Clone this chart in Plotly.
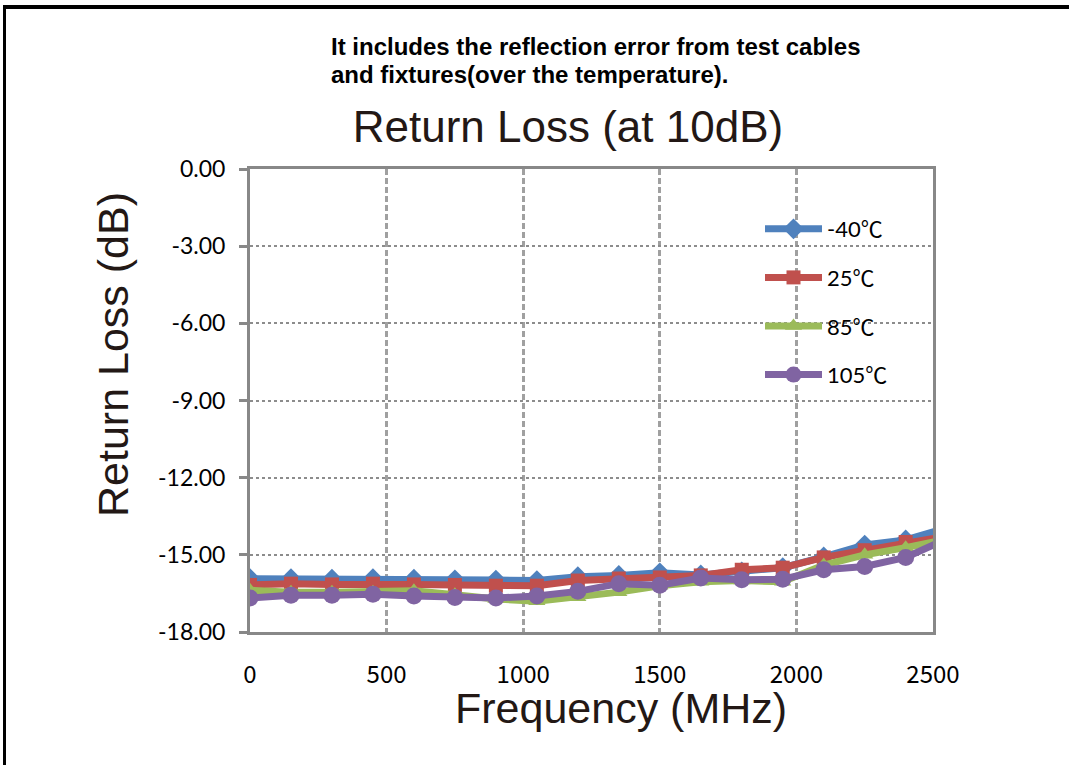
import plotly.graph_objects as go

# ---- data ----
freq_mhz = [0, 150, 300, 450, 600, 750, 900, 1050, 1200, 1350, 1500,
            1650, 1800, 1950, 2100, 2250, 2400, 2550]
rl_m40 = [-15.93, -15.93, -15.95, -15.93, -15.95, -15.97, -15.98, -16.00, -15.85,
          -15.80, -15.70, -15.78, -15.66, -15.50, -15.08, -14.62, -14.42, -13.95]
rl_25 = [-16.17, -16.12, -16.15, -16.12, -16.15, -16.17, -16.20, -16.20, -16.00,
         -15.92, -15.88, -15.80, -15.58, -15.50, -15.10, -14.82, -14.50, -14.28]
rl_85 = [-16.38, -16.45, -16.45, -16.45, -16.40, -16.55, -16.72, -16.80, -16.65,
         -16.45, -16.20, -16.05, -16.00, -16.05, -15.40, -15.00, -14.72, -14.40]
rl_105 = [-16.68, -16.57, -16.57, -16.53, -16.60, -16.66, -16.68, -16.60, -16.42,
          -16.12, -16.18, -15.90, -15.97, -15.95, -15.58, -15.45, -15.10, -14.38]
series_temps = ["-40", "25", "85", "105"]
series_values = [rl_m40, rl_25, rl_85, rl_105]
unit = "℃"
x_ticks = [0, 500, 1000, 1500, 2000, 2500]
y_ticks = [0, -3, -6, -9, -12, -15, -18]
y_tick_text = ["0.00", "-3.00", "-6.00", "-9.00", "-12.00", "-15.00", "-18.00"]

colors = ["#4F81BD", "#C0504D", "#9BBB59", "#8064A2"]
symbols = ["diamond", "square", "triangle-up", "circle"]
msizes = [16, 14, 15, 17]

W, H = 1069, 765
L, R, T, B = 250, 933, 169, 632  # plot area in px

def px(xp):
    return (xp - L) / (R - L)

def py(yp):
    return (B - yp) / (B - T)

fig = go.Figure()
for i, (temp, vals) in enumerate(zip(series_temps, series_values)):
    label = f"{temp}<span style='font-family:Noto Sans CJK JP'>{unit}</span>"
    fig.add_trace(go.Scatter(
        x=freq_mhz, y=vals, name=label, mode="lines+markers",
        legendgroup=f"g{i}",
        line=dict(color=colors[i], width=7),
        marker=dict(symbol=symbols[i], size=msizes[i], color=colors[i],
                    line=dict(width=0)),
    ))

fig.update_layout(
    width=W, height=H,
    margin=dict(l=L, r=W - R, t=T, b=H - B, pad=0),
    paper_bgcolor="white", plot_bgcolor="white",
    showlegend=True,
    legend=dict(
        x=px(760), y=py(208), xanchor="left", yanchor="top",
        bgcolor="rgba(0,0,0,0)", borderwidth=0,
        font=dict(family="Lato, Noto Sans CJK JP", size=22, color="#000"),
        itemwidth=57, traceorder="grouped", tracegroupgap=17,
    ),
    title=dict(
        text="Return Loss (at 10dB)",
        font=dict(family="Liberation Sans, Arial", size=44, color="#231815"),
        x=px(568), xref="paper", xanchor="center",
        y=1 - 127 / H, yref="container", yanchor="middle",
    ),
    xaxis=dict(
        range=[0, 2500], tickvals=x_ticks, ticks="",
        tickfont=dict(family="Noto Sans CJK JP", size=24, color="#000"),
        ticklabelstandoff=19,
        showline=True, linecolor="#888888", linewidth=3, mirror=True,
        showgrid=True, gridcolor="#A0A0A0", gridwidth=3, griddash="6px,3px",
        zeroline=False, fixedrange=True,
    ),
    yaxis=dict(
        range=[-18, 0], tickvals=y_ticks, ticktext=y_tick_text,
        ticks="outside", ticklen=8, tickwidth=3, tickcolor="#888888",
        tickfont=dict(family="Lato", size=23, color="#000"),
        ticklabelstandoff=9,
        showline=True, linecolor="#888888", linewidth=3, mirror=True,
        showgrid=True, gridcolor="#8C8C8C", gridwidth=2, griddash="dot",
        zeroline=False, fixedrange=True,
    ),
)

# axis titles
fig.add_annotation(text="Frequency (MHz)", x=px(621), y=py(708), xref="paper", yref="paper",
                   showarrow=False, xanchor="center", yanchor="middle",
                   font=dict(family="Liberation Sans, Arial", size=43, color="#231815"))
fig.add_annotation(text="Return Loss (dB)", x=px(113), y=py(355), xref="paper", yref="paper",
                   showarrow=False, xanchor="center", yanchor="middle", textangle=-90,
                   font=dict(family="Liberation Sans, Arial", size=43, color="#231815"))

# note text
note_lines = ["It includes the reflection error from test cables",
              "and fixtures(over the temperature)."]
for k, line in enumerate(note_lines):
    fig.add_annotation(text=line, x=px(329), y=py(46 + 29 * k), xref="paper", yref="paper",
                       showarrow=False, xanchor="left", yanchor="middle",
                       font=dict(family="Liberation Sans, Arial", size=24, color="#000",
                                 weight="bold"))

# frame lines of the original page
fig.add_shape(type="line", xref="paper", yref="paper",
              x0=px(3), x1=px(W + 2), y0=py(7), y1=py(7),
              line=dict(color="#000", width=4))
fig.add_shape(type="line", xref="paper", yref="paper",
              x0=px(4.5), x1=px(4.5), y0=py(5), y1=py(H + 2),
              line=dict(color="#000", width=3))

fig.write_html("out.html",
               config={"displayModeBar": False},
               post_script="document.body.style.margin='0';document.body.style.overflow='hidden';")
